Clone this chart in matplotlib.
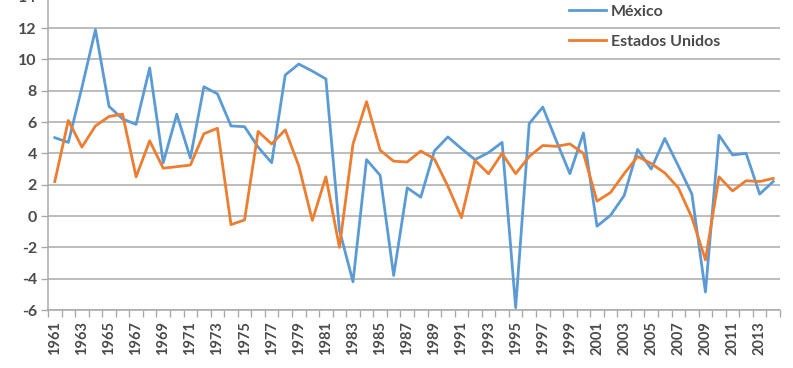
import matplotlib
matplotlib.use("Agg")
import matplotlib.pyplot as plt
from matplotlib.ticker import FixedLocator

years = list(range(1961, 2015))
mexico = [5.0, 4.7, 8.2, 11.9, 7.0, 6.2, 5.85, 9.45, 3.4, 6.5,
          3.7, 8.25, 7.8, 5.75, 5.7, 4.4, 3.4, 9.0, 9.7, 9.25,
          8.75, -0.9, -4.2, 3.6, 2.6, -3.8, 1.8, 1.2, 4.15, 5.05,
          4.3, 3.6, 4.05, 4.7, -5.85, 5.9, 6.95, 4.8, 2.7, 5.3,
          -0.65, 0.05, 1.3, 4.25, 3.0, 4.95, 3.2, 1.4, -4.85, 5.15,
          3.9, 4.0, 1.4, 2.2]
usa = [2.2, 6.1, 4.4, 5.75, 6.35, 6.5, 2.5, 4.8, 3.05, 3.15,
       3.25, 5.25, 5.6, -0.55, -0.25, 5.4, 4.6, 5.5, 3.2, -0.28,
       2.5, -2.0, 4.6, 7.3, 4.2, 3.5, 3.45, 4.15, 3.65, 1.9,
       -0.1, 3.55, 2.7, 4.0, 2.7, 3.8, 4.5, 4.45, 4.6, 4.0,
       0.95, 1.5, 2.7, 3.8, 3.35, 2.75, 1.8, -0.1, -2.8, 2.5,
       1.6, 2.25, 2.2, 2.4]
series_names = ["México", "Estados Unidos"]
yticks = list(range(-6, 15, 2))

blue = "#5B9BD5"
orange = "#ED7D31"
grid_c = "#A9A9A9"
text_c = "#4A4A4A"

plt.rcParams['font.family'] = ['Lato', 'DejaVu Sans']

fig = plt.figure(figsize=(7.93, 3.68), dpi=100)
ax = fig.add_axes([48/793, 58/368, 732/793, 313.3/368])

x = list(range(len(years)))
ax.plot(x, mexico, color=blue, lw=2.0, label=series_names[0], zorder=3)
ax.plot(x, usa, color=orange, lw=2.0, label=series_names[1], zorder=3)

ax.set_xlim(-0.5, len(years) - 0.5)
ax.set_ylim(-6, 14)
ax.set_yticks(yticks)
ax.set_yticklabels([str(v) for v in yticks])
ax.yaxis.grid(True, color=grid_c, lw=1.1)
ax.set_axisbelow(True)

ax.set_xticks(x[::2])
ax.set_xticklabels([str(y) for y in years[::2]], rotation=90)
ax.xaxis.set_minor_locator(FixedLocator([i - 0.5 for i in range(len(years) + 1)]))
ax.tick_params(axis='x', which='major', length=0, pad=8, labelsize=10.5, labelcolor=text_c)
ax.tick_params(axis='x', which='minor', length=5, color=grid_c, width=1)
ax.tick_params(axis='y', length=5, color=grid_c, width=1, labelsize=11.5, labelcolor=text_c, pad=3)
for lab in ax.get_xticklabels() + ax.get_yticklabels():
    lab.set_fontweight('bold')

for s in ['top', 'right']:
    ax.spines[s].set_visible(False)
ax.spines['left'].set_color(grid_c)
ax.spines['bottom'].set_color(grid_c)
ax.spines['left'].set_linewidth(1.1)
ax.spines['bottom'].set_linewidth(1.1)

leg = ax.legend(loc='upper left', bbox_to_anchor=(563/793, 1.005), bbox_transform=fig.transFigure,
                frameon=False, handlelength=2.3, handletextpad=0.3, labelspacing=1.0,
                prop={'size': 11.5, 'weight': 'bold'}, borderaxespad=0)
for t in leg.get_texts():
    t.set_color(text_c)
leg.set_zorder(5)

fig.savefig("out.png", dpi=100)
